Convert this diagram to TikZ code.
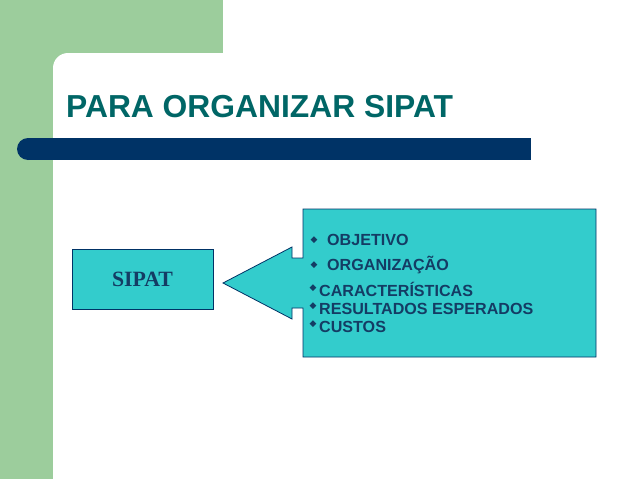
\documentclass[tikz,border=0pt]{standalone}
\usepackage{fontspec}
\setmainfont{Liberation Serif}
\newfontfamily\arialfont{Liberation Sans}
\newfontfamily\dejavufont{DejaVu Sans}
\definecolor{slgreen}{HTML}{9CCD9C}
\definecolor{titleteal}{HTML}{006666}
\definecolor{barblue}{HTML}{003366}
\definecolor{turq}{HTML}{33CCCC}
\definecolor{navytext}{HTML}{143C64}
\tikzset{
  itemtext/.style={anchor=base west, inner sep=0pt, text=navytext, font=\arialfont\fontsize{16.1}{18}\selectfont\bfseries},
  bulletmark/.style={anchor=center, inner sep=0pt, text=navytext, font=\dejavufont\fontsize{9}{10}\selectfont},
  boxline/.style={draw=barblue, line width=0.8pt},
}
\begin{document}
\begin{tikzpicture}[x=1pt,y=-1pt]
\useasboundingbox (0,0) rectangle (638,479);
\fill[white] (0,0) rectangle (638,479);
% green L frame
\fill[slgreen] (0,0) rectangle (53,479);
\fill[slgreen] (0,0) rectangle (223,53);
\fill[slgreen] (53,53) rectangle (68,68);
\fill[white] (68,68) circle[radius=15];
% title
\node[anchor=base west, inner sep=0pt, text=titleteal, font=\arialfont\fontsize{31.8}{36}\selectfont\bfseries] (title) at (66,117) {PARA ORGANIZAR SIPAT};
% bar
\fill[barblue] (28,138) rectangle (531,160);
\fill[barblue] (28,149) circle[radius=11];
% SIPAT box
\node[boxline, fill=turq, minimum width=141pt, minimum height=60pt, inner sep=0pt,
      text=navytext, font=\fontsize{21.8}{24}\selectfont\bfseries] (sipat) at (142.5,279) {SIPAT};
% callout
\coordinate (tip) at (223,283);
\filldraw[boxline, fill=turq] (303,209) -- (596,209) -- (596,357) -- (303,357) -- (303,308) -- (292,308) -- (292,319) -- (tip) -- (292,247) -- (292,258) -- (303,258) -- cycle;
% items
\node[bulletmark] (b1) at (314,240) {◆};
\node[itemtext] (t1) at (327,245) {OBJETIVO};
\node[bulletmark] (b2) at (314,265) {◆};
\node[itemtext] (t2) at (327,270) {ORGANIZAÇÃO};
\node[bulletmark] (b3) at (313,288.5) {◆};
\node[itemtext] (t3) at (319,296) {CARACTERÍSTICAS};
\node[bulletmark] (b4) at (313,306.5) {◆};
\node[itemtext] (t4) at (319,314) {RESULTADOS ESPERADOS};
\node[bulletmark] (b5) at (313,324.5) {◆};
\node[itemtext] (t5) at (319,332) {CUSTOS};
\end{tikzpicture}
\end{document}
